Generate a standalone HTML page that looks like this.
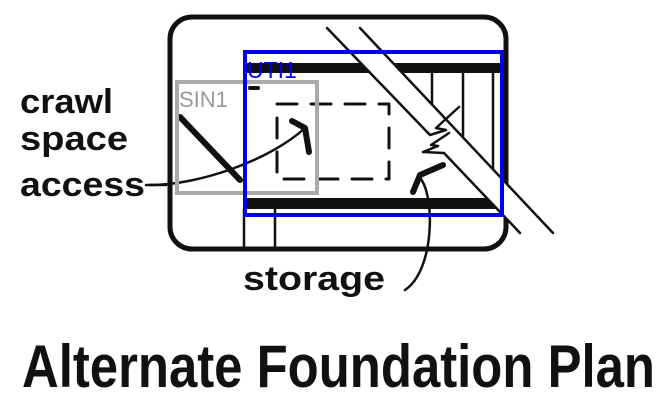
<!DOCTYPE html>
<html><head><meta charset="utf-8"><style>
html,body{margin:0;padding:0;background:#fff;}
svg{display:block;}
.hand{font-family:"Liberation Sans",sans-serif;font-weight:bold;fill:#111;}
</style></head><body>
<svg width="670" height="410" viewBox="0 0 670 410">
<g stroke="#111" fill="none" stroke-linecap="round" stroke-linejoin="round">
  <rect x="170" y="17" width="336" height="232" rx="22" stroke-width="5"/>
  <rect x="245" y="63" width="255" height="10" fill="#111" stroke="none"/>
  <rect x="245" y="198" width="255" height="11" fill="#111" stroke="none"/>
  <line x1="244" y1="209" x2="244" y2="248" stroke-width="2.5"/>
  <line x1="275" y1="209" x2="275" y2="248" stroke-width="2.5"/>
  <line x1="432" y1="73" x2="432" y2="112" stroke-width="2.5"/>
  <line x1="463" y1="73" x2="463" y2="160" stroke-width="2.5"/>
  <line x1="493" y1="73" x2="493" y2="198" stroke-width="2.5"/>
  <polygon points="327,28 360,28 553,233 520,233 444,153 423,152 430,135" fill="#fff" stroke="none"/>
  <path d="M327 28 L430 135 L446 130 L436 128 L459 107" stroke-width="2.5"/>
  <path d="M423 152 L438 146 L431 145 L449 133" stroke-width="2.5"/>
  <path d="M423 152 L444 153 L520 233" stroke-width="2.5"/>
  <path d="M360 28 L553 233" stroke-width="2.5"/>
  <path d="M180 117 L240 180" stroke-width="6"/>
  <path d="M250 88 L258 88" stroke-width="4"/>
  <rect x="277" y="104" width="112" height="75" stroke-width="3" stroke-dasharray="20 14"/>
  <path d="M150 185 C200 185 270 160 305 128" stroke-width="2.5"/>
  <path d="M292 121 L305 128 L309 152" stroke-width="6"/>
  <path d="M405 290 C435 270 435 195 420 178" stroke-width="2.5"/>
  <path d="M413 192 L420 175 L443 165" stroke-width="6"/>
  <line x1="146" y1="185" x2="166" y2="185" stroke-width="2.5"/>
</g>
<rect x="177" y="82" width="140" height="111" fill="none" stroke="#aaa" stroke-width="4"/>
<text x="179" y="107" font-family="Liberation Sans,sans-serif" font-size="22" fill="#999">SIN1</text>
<rect x="245" y="52" width="257" height="163" fill="none" stroke="#0000ee" stroke-width="4"/>
<text x="247" y="78" font-family="Liberation Sans,sans-serif" font-size="23" fill="#0000ee">UTI1</text>
<text class="hand" x="20" y="113" font-size="34" textLength="93" lengthAdjust="spacingAndGlyphs">crawl</text>
<text class="hand" x="20" y="150" font-size="34" textLength="108" lengthAdjust="spacingAndGlyphs">space</text>
<text class="hand" x="20" y="196" font-size="34" textLength="125" lengthAdjust="spacingAndGlyphs">access</text>
<text class="hand" x="243" y="290" font-size="34" textLength="142" lengthAdjust="spacingAndGlyphs">storage</text>
<text class="hand" x="22" y="387" font-size="60" textLength="633" lengthAdjust="spacingAndGlyphs">Alternate Foundation Plan</text>
</svg>
</body></html>
